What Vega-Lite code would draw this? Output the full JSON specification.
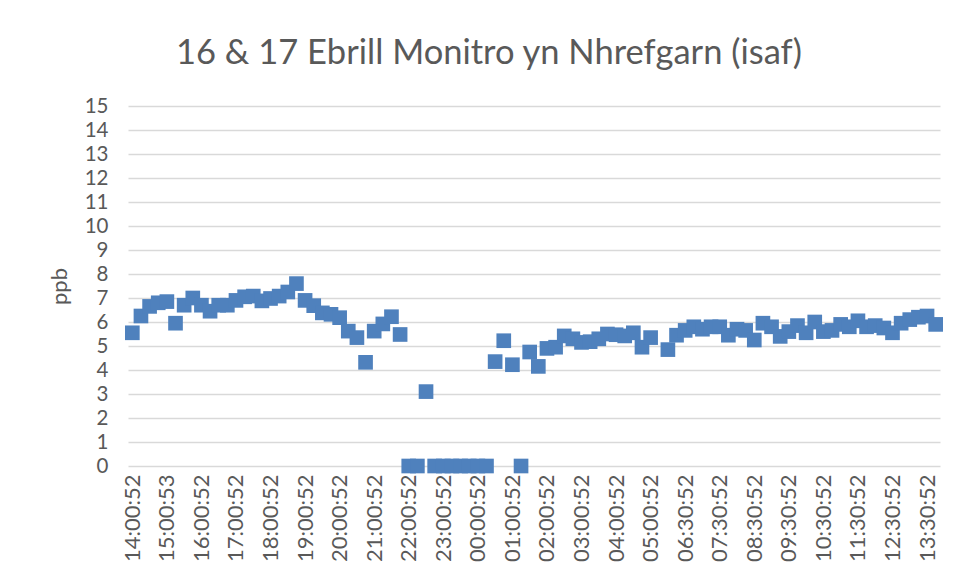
{
  "$schema": "https://vega.github.io/schema/vega-lite/v6.json",
  "width": 812,
  "height": 360,
  "autosize": {"type": "none"},
  "padding": {"left": 128, "top": 106, "right": 20, "bottom": 114},
  "background": "white",
  "title": {"text": "16 & 17 Ebrill Monitro yn Nhrefgarn (isaf)", "font": "Lato", "fontSize": 34.5, "fontWeight": "normal", "color": "#595959", "anchor": "middle", "dx": -45, "offset": 25},
  "data": {"values": [
    {"time": "14:00:52", "ppb": 5.55}, {"time": "14:15:52", "ppb": 6.25}, {"time": "14:30:52", "ppb": 6.65}, {"time": "14:45:52", "ppb": 6.8},
    {"time": "15:00:53", "ppb": 6.85}, {"time": "15:15:52", "ppb": 5.95}, {"time": "15:30:52", "ppb": 6.7}, {"time": "15:45:52", "ppb": 7.0},
    {"time": "16:00:52", "ppb": 6.7}, {"time": "16:15:52", "ppb": 6.45}, {"time": "16:30:52", "ppb": 6.7}, {"time": "16:45:52", "ppb": 6.7},
    {"time": "17:00:52", "ppb": 6.9}, {"time": "17:15:52", "ppb": 7.05}, {"time": "17:30:52", "ppb": 7.08}, {"time": "17:45:52", "ppb": 6.88},
    {"time": "18:00:52", "ppb": 6.98}, {"time": "18:15:52", "ppb": 7.08}, {"time": "18:30:52", "ppb": 7.25}, {"time": "18:45:52", "ppb": 7.6},
    {"time": "19:00:52", "ppb": 6.9}, {"time": "19:15:52", "ppb": 6.68}, {"time": "19:30:52", "ppb": 6.38}, {"time": "19:45:52", "ppb": 6.32},
    {"time": "20:00:52", "ppb": 6.18}, {"time": "20:15:52", "ppb": 5.62}, {"time": "20:30:52", "ppb": 5.35}, {"time": "20:45:52", "ppb": 4.32},
    {"time": "21:00:52", "ppb": 5.62}, {"time": "21:15:52", "ppb": 5.92}, {"time": "21:30:52", "ppb": 6.22}, {"time": "21:45:52", "ppb": 5.48},
    {"time": "22:00:52", "ppb": 0}, {"time": "22:15:52", "ppb": 0}, {"time": "22:30:52", "ppb": 3.1}, {"time": "22:45:52", "ppb": 0},
    {"time": "23:00:52", "ppb": 0}, {"time": "23:15:52", "ppb": 0}, {"time": "23:30:52", "ppb": 0}, {"time": "23:45:52", "ppb": 0},
    {"time": "00:00:52", "ppb": 0}, {"time": "00:15:52", "ppb": 0}, {"time": "00:30:52", "ppb": 4.35}, {"time": "00:45:52", "ppb": 5.22},
    {"time": "01:00:52", "ppb": 4.22}, {"time": "01:15:52", "ppb": 0}, {"time": "01:30:52", "ppb": 4.75}, {"time": "01:45:52", "ppb": 4.15},
    {"time": "02:00:52", "ppb": 4.9}, {"time": "02:15:52", "ppb": 4.95}, {"time": "02:30:52", "ppb": 5.42}, {"time": "02:45:52", "ppb": 5.3},
    {"time": "03:00:52", "ppb": 5.15}, {"time": "03:15:52", "ppb": 5.18}, {"time": "03:30:52", "ppb": 5.3}, {"time": "03:45:52", "ppb": 5.5},
    {"time": "04:00:52", "ppb": 5.47}, {"time": "04:15:52", "ppb": 5.42}, {"time": "04:30:52", "ppb": 5.55}, {"time": "04:45:52", "ppb": 4.95},
    {"time": "05:00:52", "ppb": 5.35}, {"time": "05:15:52", "ppb": null}, {"time": "06:00:52", "ppb": 4.85}, {"time": "06:15:52", "ppb": 5.45},
    {"time": "06:30:52", "ppb": 5.65}, {"time": "06:45:52", "ppb": 5.8}, {"time": "07:00:52", "ppb": 5.7}, {"time": "07:15:52", "ppb": 5.8},
    {"time": "07:30:52", "ppb": 5.8}, {"time": "07:45:52", "ppb": 5.45}, {"time": "08:00:52", "ppb": 5.7}, {"time": "08:15:52", "ppb": 5.65},
    {"time": "08:30:52", "ppb": 5.25}, {"time": "08:45:52", "ppb": 5.95}, {"time": "09:00:52", "ppb": 5.8}, {"time": "09:15:52", "ppb": 5.4},
    {"time": "09:30:52", "ppb": 5.6}, {"time": "09:45:52", "ppb": 5.85}, {"time": "10:00:52", "ppb": 5.55}, {"time": "10:15:52", "ppb": 6.0},
    {"time": "10:30:52", "ppb": 5.6}, {"time": "10:45:52", "ppb": 5.65}, {"time": "11:00:52", "ppb": 5.9}, {"time": "11:15:52", "ppb": 5.8},
    {"time": "11:30:52", "ppb": 6.05}, {"time": "11:45:52", "ppb": 5.8}, {"time": "12:00:52", "ppb": 5.85}, {"time": "12:15:52", "ppb": 5.75},
    {"time": "12:30:52", "ppb": 5.55}, {"time": "12:45:52", "ppb": 5.95}, {"time": "13:00:52", "ppb": 6.1}, {"time": "13:15:52", "ppb": 6.2},
    {"time": "13:30:52", "ppb": 6.25}, {"time": "13:45:52", "ppb": 5.9}
  ]},
  "mark": {"type": "point", "shape": "square", "filled": true, "size": 215, "color": "#4F81BD", "opacity": 1},
  "encoding": {
    "x": {
      "field": "time", "type": "ordinal",
      "scale": {"domain": ["14:00:52","14:15:52","14:30:52","14:45:52","15:00:53","15:15:52","15:30:52","15:45:52","16:00:52","16:15:52","16:30:52","16:45:52","17:00:52","17:15:52","17:30:52","17:45:52","18:00:52","18:15:52","18:30:52","18:45:52","19:00:52","19:15:52","19:30:52","19:45:52","20:00:52","20:15:52","20:30:52","20:45:52","21:00:52","21:15:52","21:30:52","21:45:52","22:00:52","22:15:52","22:30:52","22:45:52","23:00:52","23:15:52","23:30:52","23:45:52","00:00:52","00:15:52","00:30:52","00:45:52","01:00:52","01:15:52","01:30:52","01:45:52","02:00:52","02:15:52","02:30:52","02:45:52","03:00:52","03:15:52","03:30:52","03:45:52","04:00:52","04:15:52","04:30:52","04:45:52","05:00:52","05:15:52","06:00:52","06:15:52","06:30:52","06:45:52","07:00:52","07:15:52","07:30:52","07:45:52","08:00:52","08:15:52","08:30:52","08:45:52","09:00:52","09:15:52","09:30:52","09:45:52","10:00:52","10:15:52","10:30:52","10:45:52","11:00:52","11:15:52","11:30:52","11:45:52","12:00:52","12:15:52","12:30:52","12:45:52","13:00:52","13:15:52","13:30:52","13:45:52"]},
      "axis": {
        "title": null,
        "values": ["14:00:52","15:00:53","16:00:52","17:00:52","18:00:52","19:00:52","20:00:52","21:00:52","22:00:52","23:00:52","00:00:52","01:00:52","02:00:52","03:00:52","04:00:52","05:00:52","06:30:52","07:30:52","08:30:52","09:30:52","10:30:52","11:30:52","12:30:52","13:30:52"],
        "labelAngle": -90, "labelFont": "Lato", "labelFontSize": 22, "labelColor": "#595959", "labelPadding": 8,
        "domain": false, "ticks": false, "grid": false
      }
    },
    "y": {
      "field": "ppb", "type": "quantitative",
      "scale": {"domain": [0, 15]},
      "axis": {
        "title": "ppb", "values": [0,1,2,3,4,5,6,7,8,9,10,11,12,13,14,15],
        "grid": true, "gridColor": "#D9D9D9", "gridWidth": 1.3,
        "domain": false, "ticks": false,
        "labelFont": "Lato", "labelFontSize": 20.5, "labelColor": "#595959", "labelPadding": 20,
        "titleFont": "Lato", "titleFontSize": 22, "titleFontWeight": "normal", "titleColor": "#595959", "titlePadding": 13
      }
    }
  },
  "config": {"view": {"stroke": null}}
}
